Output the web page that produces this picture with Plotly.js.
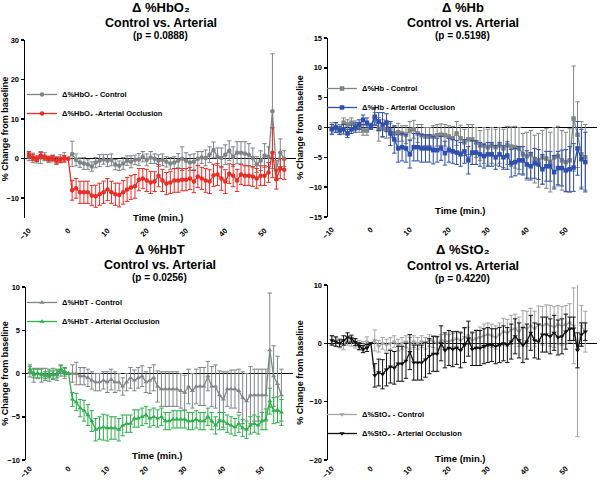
<!DOCTYPE html>
<html>
<head>
<meta charset="utf-8">
<script src="https://cdn.plot.ly/plotly-3.0.1.min.js"></script>
<style>html,body{margin:0;padding:0;background:#fff;}#chart{width:600px;height:484px;}</style>
</head>
<body>
<div id="chart"></div>
<script>
// ---- data (time in minutes; values = % change from baseline, errors = SEM) ----
var time = [-10,-9,-8,-7,-6,-5,-4,-3,-2,-1,0,1,2,3,4,5,6,7,8,9,10,11,12,13,14,15,16,17,18,19,20,21,22,23,24,25,26,27,28,29,30,31,32,33,34,35,36,37,38,39,40,41,42,43,44,45,46,47,48,49,50,51,52,53,54,55];
var xTicks = [-10,0,10,20,30,40,50];

var hbo2Ctrl = [0.5,0.2,-0.3,0.3,0.5,-0.2,0,-0.5,0,0.3, 0,
  1.2,-0.3,-1.0,-1.2,-1.5,-2.0,-1.0,-0.5,-0.2,-0.5,
  -0.3,-1.5,-1.8,-1.2,-0.5,-0.8,-0.3,-0.2,0.5,-0.3,
  0.3,0,-0.5,-0.3,-0.8,-1.2,-1.0,-0.5,0,-0.5,
  -1.0,-0.8,0,0.3,0.2,1.0,2.2,0.5,0.2,1.0,
  2.0,0.5,1.5,1.5,1.3,1.0,0.2,-1.5,-0.5,0.8,
  0.5,12.0,-3.0,1.5,0.0];
var hbo2CtrlErr = [1.0,1.2,0.8,1.5,1.0,0.8,0.8,1.0,1.0,1.2, 0,
  3.2,1.5,1.2,1.5,1.2,1.2,1.3,1.5,1.2,1.5,
  1.5,1.3,1.2,1.5,1.2,1.5,1.2,1.5,1.3,1.5,
  1.5,1.2,1.5,1.5,1.3,1.5,1.5,1.8,3.0,2.0,
  2.0,2.0,1.8,1.5,2.0,2.0,2.0,2.2,2.5,2.5,
  2.5,2.5,2.8,2.8,3.0,2.8,2.5,2.0,2.5,3.0,
  2.5,14.5,2.5,3.5,2.0];
var hbo2Art = [1.0,0.3,0,0.8,0.3,0,0.2,-0.5,-0.3,0, 0,
  -8.0,-7.5,-8.5,-8.5,-8.5,-9.3,-9.5,-9.0,-8.5,-7.8,
  -8.5,-9.0,-9.2,-8.5,-7.8,-7.3,-7.0,-5.3,-5.0,-5.5,
  -6.0,-5.8,-4.3,-5.5,-6.3,-6.0,-5.5,-5.5,-5.3,-5.3,
  -5.0,-5.8,-4.5,-5.0,-5.5,-5.8,-4.2,-4.0,-5.0,-5.8,
  -3.8,-4.3,-5.5,-4.0,-4.3,-4.3,-4.5,-5.0,-4.3,-4.3,
  -3.5,1.5,-5.2,-2.5,-2.8];
var hbo2ArtErr = [0.8,0.8,0.7,0.8,0.6,0.6,0.7,0.8,0.7,0.8, 0,
  2.5,2.5,2.8,2.8,2.8,2.5,2.8,2.8,2.8,2.8,
  2.8,2.8,3.0,3.0,3.0,3.0,3.0,2.8,2.5,2.8,
  2.8,2.5,2.8,2.8,2.8,2.8,3.0,3.0,2.8,2.8,
  2.8,2.8,2.8,2.8,3.0,3.0,2.8,2.8,3.0,3.0,
  2.5,2.8,2.8,2.5,2.5,2.5,2.5,2.5,2.5,2.5,
  2.5,6.3,2.5,2.5,2.5];

var hbCtrl = [-0.2,0,-0.3,0.8,0.5,0.8,0.3,0,-0.5,-0.5, 0,
  1.5,-0.3,-0.2,-0.3,-0.5,-1.0,-0.8,-1.0,-1.2,-0.5,
  -0.3,-1.0,-1.3,-1.5,-1.5,-1.5,-1.3,-1.2,-1.3,-1.5,
  -1.8,-1.0,-1.8,-2.5,-2.0,-2.0,-2.5,-3.0,-3.0,-3.3,
  -3.0,-3.3,-3.0,-3.5,-3.0,-3.2,-3.3,-3.5,-4.5,-4.8,
  -4.5,-5.3,-5.5,-5.0,-5.2,-5.8,-5.0,-4.8,-5.5,-5.8,
  -5.5,1.5,-1.2,-4.5,-5.0];
var hbCtrlErr = [1.0,0.8,0.8,0.8,0.8,0.8,0.8,0.8,0.8,0.8, 0,
  1.0,2.0,1.5,1.5,1.2,1.2,1.5,1.3,1.5,1.5,
  1.5,1.5,1.8,1.5,1.5,1.8,1.8,1.8,1.8,1.8,
  2.0,2.0,2.2,2.2,2.5,2.5,2.5,2.5,3.0,3.0,
  3.0,3.0,3.0,3.2,3.2,3.3,3.5,3.5,3.5,4.0,
  4.0,4.0,4.5,4.5,5.0,5.0,5.0,5.0,5.0,5.0,
  5.3,8.8,5.5,5.5,5.5];
var hbArt = [-0.3,0,-0.5,-0.3,-1.0,-0.3,0,0.5,1.3,0.8, 0.2,
  1.8,1.0,0.5,0.8,-1.0,-2.0,-3.5,-3.3,-3.5,-4.5,
  -3.3,-3.3,-3.5,-3.5,-3.5,-3.8,-3.8,-3.5,-4.3,-3.8,
  -4.0,-4.2,-4.5,-4.0,-5.5,-4.2,-4.2,-4.5,-4.8,-4.5,
  -4.5,-5.0,-4.5,-5.0,-4.7,-6.0,-5.8,-5.5,-5.5,-6.2,
  -6.5,-6.0,-6.2,-7.0,-6.5,-6.5,-7.5,-6.8,-6.8,-7.2,
  -7.0,-6.7,-3.5,-5.3,-5.8];
var hbArtErr = [0.8,0.8,0.7,0.8,0.7,0.7,0.8,0.8,0.8,0.8, 0.5,
  1.5,1.5,2.0,1.5,2.0,2.3,2.3,2.3,2.3,2.3,
  2.3,2.3,2.3,2.3,2.3,2.3,2.0,2.0,2.0,2.0,
  2.0,2.0,2.0,2.0,2.3,2.0,2.0,2.0,2.0,2.0,
  2.0,2.0,2.0,2.0,2.3,2.3,2.3,2.3,2.3,2.3,
  2.3,2.5,2.5,2.5,2.5,2.5,2.8,2.8,3.0,3.5,
  3.8,4.0,4.5,5.0,5.0];

var hbtCtrl = [0.2,-0.2,0,-0.2,0,-0.3,0,-0.2,0.3,0, 0,
  0,0,-0.3,-0.3,-0.5,-0.8,-1.0,-1.0,-0.8,-1.0,
  -0.7,-1.0,-1.0,-1.5,-1.0,-0.5,-0.8,-0.5,-0.3,-1.0,
  -0.8,-0.5,-1.5,-1.8,-1.8,-1.8,-1.8,-1.8,-2.0,-2.2,
  -1.5,-2.0,-1.5,-1.5,-1.5,-0.3,-1.5,-1.5,-2.5,-3.0,
  -1.8,-1.8,-1.8,-2.0,-2.8,-3.2,-2.5,-2.5,-2.5,-2.5,
  -2.5,2.7,-0.3,-1.2,-2.5];
var hbtCtrlErr = [0.6,0.8,0.6,0.8,0.6,0.6,0.6,0.6,0.6,0.6, 0,
  1.0,1.3,1.0,1.0,1.0,1.0,1.0,1.0,1.0,1.2,
  1.2,1.2,1.0,1.0,1.0,1.2,1.2,1.2,1.2,1.2,
  1.5,1.5,1.8,2.0,2.0,2.0,2.0,2.0,2.0,2.0,
  2.0,2.0,2.0,2.2,2.2,1.7,2.3,2.5,2.8,3.2,
  2.0,2.2,2.2,2.5,3.0,3.2,3.3,3.0,3.0,3.0,
  3.0,6.6,3.5,3.2,3.0];
var hbtArt = [0.5,0,0,0,-0.3,0,-0.2,0,0.5,0.2, 0,
  -3.0,-3.3,-4.0,-4.3,-4.8,-5.5,-6.5,-6.3,-6.2,-6.3,
  -6.3,-6.3,-6.5,-6.0,-5.8,-5.8,-5.2,-5.2,-5.0,-4.8,
  -5.2,-5.0,-5.2,-5.0,-5.5,-5.5,-5.3,-5.3,-5.3,-5.3,
  -5.5,-5.5,-5.3,-5.5,-5.5,-5.0,-5.5,-6.0,-5.5,-5.5,
  -5.8,-6.0,-6.2,-5.8,-6.3,-6.5,-6.0,-5.8,-6.0,-5.5,
  -5.3,-3.2,-4.3,-4.2,-4.5];
var hbtArtErr = [0.5,0.5,0.5,0.5,0.5,0.5,0.5,0.5,0.5,0.5, 0,
  0.8,1.0,1.0,1.2,1.2,1.2,1.3,1.3,1.5,1.5,
  1.3,1.3,1.3,1.2,1.0,1.0,1.0,1.0,1.0,1.0,
  1.0,1.0,1.0,1.0,1.0,1.0,1.0,1.0,1.0,1.0,
  1.0,1.0,1.0,1.0,1.0,1.0,1.0,1.0,1.0,1.0,
  1.0,1.0,1.0,1.0,1.0,1.0,1.0,1.0,1.0,1.0,
  1.2,1.5,1.5,1.5,1.5];

var sto2Ctrl = [0.5,0.3,0,-0.3,0.5,0.3,0,-0.3,-0.5,0.3, 0,
  0.5,-0.5,0,-0.3,0,0.3,-0.3,0,0.3,0,
  0.3,0,0.3,0,0.5,0.3,0,0.5,0.3,0.3,
  0.5,0.8,0.5,1.0,1.3,0.5,0.8,1.0,1.3,1.5,
  1.3,1.0,1.5,2.0,1.8,2.3,2.5,2.0,2.8,2.5,
  3.0,2.5,3.2,3.0,3.3,3.0,2.8,3.2,3.0,3.2,
  3.5,3.0,-1.0,3.0,2.0];
var sto2CtrlErr = [0.8,0.8,0.8,0.8,0.8,0.8,0.8,0.8,0.8,0.8, 0,
  1.8,1.0,1.0,1.0,1.0,1.0,1.0,1.0,1.0,1.0,
  1.0,1.0,1.0,1.0,1.0,1.0,1.0,1.0,1.2,1.2,
  1.2,1.3,1.5,1.5,1.5,1.5,1.5,1.8,2.0,2.0,
  2.0,2.0,2.0,2.3,2.3,2.5,2.5,2.5,2.8,3.0,
  3.0,3.0,3.2,3.3,3.3,3.5,3.5,3.3,3.3,3.3,
  3.3,6.5,15.0,3.5,3.5];
var sto2Art = [0.5,0.3,0,0.5,1.0,0.8,0.2,-0.5,-1.0,-0.8, 0,
  -5.5,-5.0,-5.3,-4.5,-4.0,-4.2,-3.5,-3.5,-3.0,-1.5,
  -3.3,-3.3,-3.3,-2.8,-2.2,-1.8,-1.8,0,-1.2,-0.8,
  -1.0,-0.8,-1.2,-0.3,0.8,-1.0,-0.8,-0.8,-0.5,-0.3,
  -0.3,-0.5,-0.3,0,-0.3,0.3,1.2,0.5,-0.3,0.3,
  1.8,0.5,0.3,1.5,1.5,1.2,1.8,1.0,1.2,2.0,
  2.5,2.5,-1.2,1.5,2.0];
var sto2ArtErr = [0.8,0.8,0.6,0.8,0.8,0.6,0.6,0.6,0.6,0.6, 0,
  2.0,2.3,2.5,2.8,2.8,2.8,3.0,3.0,3.0,3.0,
  3.0,3.0,3.0,3.0,3.0,3.0,3.0,3.0,3.0,3.0,
  3.0,2.8,3.0,3.0,3.0,2.8,3.0,3.0,3.0,3.0,
  2.8,3.0,3.0,3.0,3.0,3.0,3.0,3.0,3.0,3.0,
  3.0,3.0,3.0,3.0,3.0,3.0,3.0,3.0,3.0,3.0,
  2.0,2.0,3.0,2.0,1.5];

// ---- styling helpers ----
var FONT = 'Liberation Sans, Arial, DejaVu Sans, sans-serif';
function bold(size, color) { return {family: FONT, size: size, color: color || '#000', weight: 'bold'}; }

function series(name, y, err, color, symbol, xa, ya, legend) {
  return {
    type: 'scatter', mode: 'lines+markers', name: name,
    x: time, y: y,
    xaxis: xa, yaxis: ya, legend: legend,
    line: {color: color, width: 1.3},
    marker: {color: color, size: 4.5, symbol: symbol},
    error_y: {type: 'data', array: err, visible: true, color: color, thickness: 1, width: 2.2}
  };
}

var grey = '#7f8585', lightGrey = '#a5a5a5';
var traces = [
  series('Δ%HbO₂ - Control', hbo2Ctrl, hbo2CtrlErr, grey, 'circle', 'x', 'y', 'legend'),
  series('Δ%HbO₂ -Arterial Occlusion', hbo2Art, hbo2ArtErr, '#ec2b25', 'circle', 'x', 'y', 'legend'),
  series('Δ%Hb - Control', hbCtrl, hbCtrlErr, grey, 'square', 'x2', 'y2', 'legend2'),
  series('Δ%Hb - Arterial Occlusion', hbArt, hbArtErr, '#2f4fae', 'square', 'x2', 'y2', 'legend2'),
  series('Δ%HbT - Control', hbtCtrl, hbtCtrlErr, grey, 'triangle-up', 'x3', 'y3', 'legend3'),
  series('Δ%HbT - Arterial Occlusion', hbtArt, hbtArtErr, '#2cb04a', 'triangle-up', 'x3', 'y3', 'legend3'),
  series('Δ%StO₂ - Control', sto2Ctrl, sto2CtrlErr, lightGrey, 'triangle-down', 'x4', 'y4', 'legend4'),
  series('Δ%StO₂ - Arterial Occlusion', sto2Art, sto2ArtErr, '#111111', 'triangle-down', 'x4', 'y4', 'legend4')
];

var W = 600, H = 484;
function xAxis(l, r, anchor, standoff) {
  return {domain: [l / W, r / W], range: [-11, 58], anchor: anchor, showline: false, zeroline: false, showgrid: false,
    ticks: '', tickvals: xTicks, tickangle: -45, tickfont: bold(7.5), ticklabelstandoff: standoff, fixedrange: true};
}
function yAxis(t, b, range, dtick, anchor) {
  return {domain: [1 - b / H, 1 - t / H], range: range, dtick: dtick, tick0: 0, anchor: anchor,
    showline: true, linecolor: '#000', linewidth: 1.5, ticks: 'outside', ticklen: 3, tickwidth: 1.5,
    tickcolor: '#000', showgrid: false, zeroline: true, zerolinecolor: '#000', zerolinewidth: 1.5,
    tickfont: bold(7.5), fixedrange: true,
    title: {text: '% Change from baseline', font: bold(9), standoff: 4}};
}

var panels = [
  {l: 25, r: 296, t: 40, b: 218, title: 'Δ %HbO₂', p: '(p = 0.0888)', ty: 7, timeY: 217},
  {l: 328, r: 597, t: 38, b: 217, title: 'Δ %Hb', p: '(p = 0.5198)', ty: 7, timeY: 211},
  {l: 26, r: 293, t: 287, b: 460, title: 'Δ %HbT', p: '(p = 0.0256)', ty: 249, timeY: 455},
  {l: 328, r: 597, t: 285, b: 460, title: 'Δ %StO₂', p: '(p = 0.4220)', ty: 250, timeY: 458}
];

var annotations = [];
panels.forEach(function (pn) {
  var cx = (pn.l + pn.r) / 2 / W;
  annotations.push({xref: 'paper', yref: 'paper', x: cx, y: 1 - pn.ty / H, yanchor: 'middle', xanchor: 'center',
    text: pn.title, showarrow: false, font: bold(13)});
  annotations.push({xref: 'paper', yref: 'paper', x: cx, y: 1 - (pn.ty + 16) / H, yanchor: 'middle', xanchor: 'center',
    text: 'Control vs. Arterial', showarrow: false, font: bold(12.5)});
  annotations.push({xref: 'paper', yref: 'paper', x: cx, y: 1 - (pn.ty + 28.5) / H, yanchor: 'middle', xanchor: 'center',
    text: pn.p, showarrow: false, font: bold(10)});
  annotations.push({xref: 'paper', yref: 'paper', x: cx - 2 / W, y: 1 - pn.timeY / H, yanchor: 'middle', xanchor: 'center',
    text: 'Time (min.)', showarrow: false, font: bold(9.5)});
});

function legendAt(x, y) {
  return {x: x / W, y: 1 - y / H, xanchor: 'left', yanchor: 'top', bgcolor: 'rgba(0,0,0,0)',
    borderwidth: 0, font: bold(7.5), itemwidth: 30, tracegroupgap: 0};
}

var layout = {
  width: W, height: H,
  margin: {l: 0, r: 0, t: 0, b: 0},
  paper_bgcolor: '#fff', plot_bgcolor: '#fff',
  showlegend: true,
  xaxis: xAxis(25, 296, 'y', 6), yaxis: yAxis(40, 218, [-15, 30], 10, 'x'),
  xaxis2: xAxis(328, 597, 'y2', 6), yaxis2: yAxis(38, 217, [-15, 15], 5, 'x2'),
  xaxis3: xAxis(26, 293, 'y3', 2), yaxis3: yAxis(287, 460, [-10, 10], 5, 'x3'),
  xaxis4: xAxis(328, 597, 'y4', 2), yaxis4: yAxis(285, 460, [-20, 10], 10, 'x4'),
  legend: legendAt(22, 80),
  legend2: legendAt(322, 74),
  legend3: legendAt(22, 288),
  legend4: legendAt(322, 400),
  annotations: annotations
};

Plotly.newPlot('chart', traces, layout, {displayModeBar: false, staticPlot: true});
</script>
</body>
</html>
